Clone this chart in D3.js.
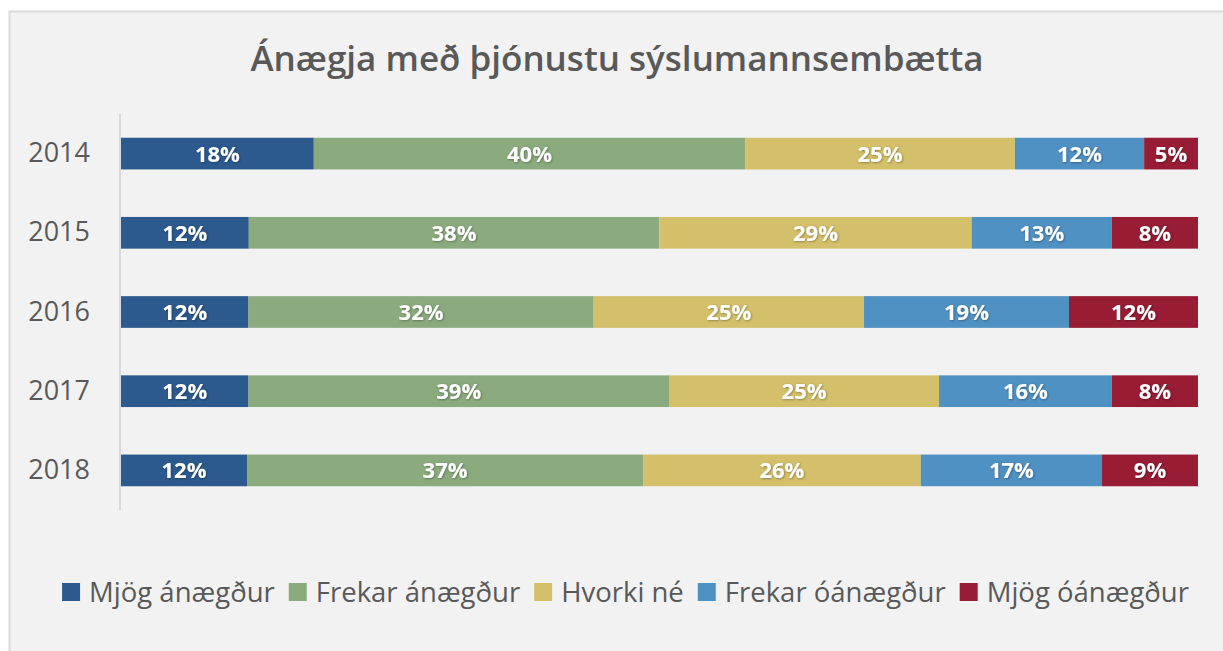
<!DOCTYPE html>
<html>
<head>
<meta charset="utf-8">
<script src="https://cdn.jsdelivr.net/npm/d3@7"></script>
<style>
  html, body { margin: 0; padding: 0; background: #ffffff; }
  svg { display: block; font-family: "Open Sans", "Noto Sans", sans-serif; }
</style>
</head>
<body>
<div id="container"></div>
<script>
/* DATA */
const years = ["2014", "2015", "2016", "2017", "2018"];
const categories = ["Mjög ánægður", "Frekar ánægður", "Hvorki né", "Frekar óánægður", "Mjög óánægður"];
const colors = ["#2C5A8E", "#8BAB7E", "#D4C06A", "#5091C3", "#971C34"];

// percentages per category, one entry per year
const veryPleased   = [17.9, 11.86, 11.84, 11.84, 11.7];
const ratherPleased = [40.05, 38.1, 32.05, 39.04, 36.77];
const neither       = [25.04, 29.0, 25.1, 25.07, 25.78];
const ratherUnhappy = [12.0, 13.0, 19.03, 16.03, 16.83];
const veryUnhappy   = [5.0, 8.0, 11.98, 8.01, 8.91];

const title = "Ánægja með þjónustu sýslumannsembætta";

/* CONSTANTS */
const width = 1223, height = 651;
const margin = { top: 114, bottom: 141, left: 121, right: 25 };

const series = [veryPleased, ratherPleased, neither, ratherUnhappy, veryUnhappy];
const table = years.map((y, i) => {
  const row = { year: y };
  categories.forEach((c, j) => row[c] = series[j][i]);
  return row;
});

const svg = d3.select("#container")
  .append("svg")
  .attr("width", width)
  .attr("height", height);

// drop shadow for labels
const defs = svg.append("defs");
defs.append("filter")
  .attr("id", "shadow")
  .attr("x", "-20%").attr("y", "-20%").attr("width", "140%").attr("height", "140%")
  .append("feDropShadow")
  .attr("dx", 0.8).attr("dy", 0.8).attr("stdDeviation", 0.8)
  .attr("flood-color", "#000").attr("flood-opacity", 0.35);

// chart area background
svg.append("rect")
  .attr("x", 9.5).attr("y", 11.5)
  .attr("width", width + 10).attr("height", height)
  .attr("fill", "#F2F2F2")
  .attr("stroke", "#D9D9D9")
  .attr("stroke-width", 2);

// TITLE
svg.append("text")
  .attr("x", 617).attr("y", 71)
  .attr("text-anchor", "middle")
  .attr("font-size", 35)
  .attr("font-weight", 600)
  .attr("fill", "#595959")
  .text(title);

// SCALES
const stack = d3.stack().keys(categories).offset(d3.stackOffsetExpand);
const stacked = stack(table);

const x = d3.scaleLinear()
  .domain([0, 1])
  .range([margin.left, width - margin.right]);

const y = d3.scaleBand()
  .domain(years)
  .range([margin.top, height - margin.bottom])
  .paddingInner(0.6)
  .paddingOuter(0.3);

const color = d3.scaleOrdinal().domain(categories).range(colors);

// Y AXIS
const yAxis = svg.append("g")
  .attr("transform", `translate(${margin.left - 1},0)`)
  .call(d3.axisLeft(y).tickSize(0).tickPadding(30));
yAxis.select(".domain")
  .attr("d", `M0,${margin.top}V${height - margin.bottom}`)
  .attr("stroke", "#D9D9D9")
  .attr("stroke-width", 2);
yAxis.selectAll("text")
  .attr("font-size", 27)
  .attr("fill", "#595959")
  .attr("font-family", "'Open Sans', sans-serif");

// BARS
const layers = svg.append("g")
  .selectAll("g")
  .data(stacked)
  .join("g")
  .attr("fill", d => color(d.key));

layers.selectAll("rect")
  .data(d => d)
  .join("rect")
  .attr("x", d => x(d[0]))
  .attr("y", d => y(d.data.year))
  .attr("width", d => x(d[1]) - x(d[0]))
  .attr("height", y.bandwidth());

// LABELS
const fmt = d3.format(".0%");
layers.selectAll("text")
  .data(d => d)
  .join("text")
  .attr("x", d => (x(d[0]) + x(d[1])) / 2)
  .attr("y", d => y(d.data.year) + y.bandwidth() / 2)
  .attr("dy", "0.36em")
  .attr("text-anchor", "middle")
  .attr("font-size", 22)
  .attr("font-weight", 700)
  .attr("fill", "#ffffff")
  .attr("filter", "url(#shadow)")
  .text(d => fmt(d[1] - d[0]));

// LEGEND
const legend = svg.append("g");
const items = legend.selectAll("g")
  .data(categories)
  .join("g");
items.append("rect")
  .attr("width", 18).attr("height", 18)
  .attr("y", -9)
  .attr("fill", d => color(d));
items.append("text")
  .attr("x", 27)
  .attr("dy", "0.36em")
  .attr("font-size", 27.5)
  .attr("fill", "#595959")
  .text(d => d);

let offset = 0;
items.each(function () {
  const g = d3.select(this);
  g.attr("transform", `translate(${offset},0)`);
  offset += 27 + g.select("text").node().getComputedTextLength() + 14;
});
offset -= 14;
legend.attr("transform", `translate(${625.5 - offset / 2},592)`);
</script>
</body>
</html>
